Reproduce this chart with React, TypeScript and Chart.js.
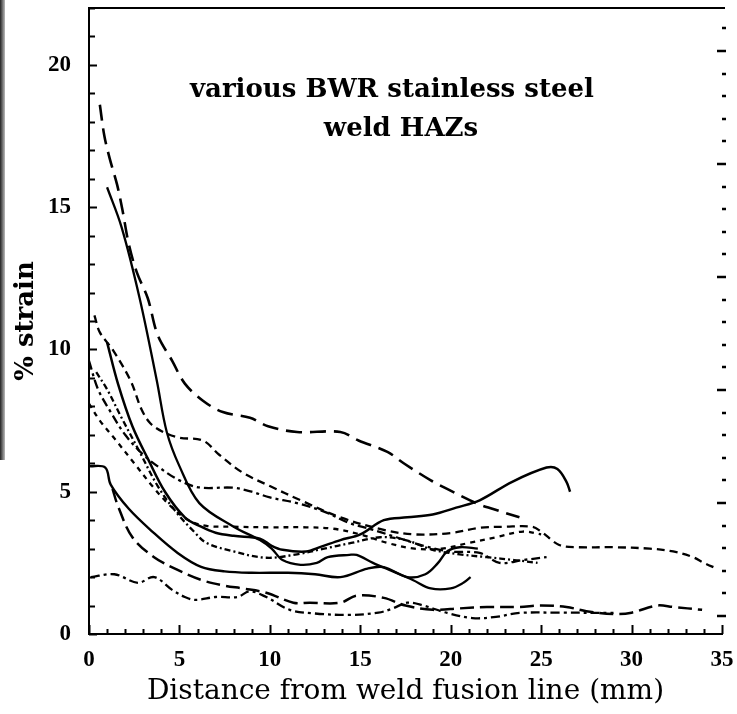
import React, { useEffect, useRef } from 'react';
import { Chart, registerables } from 'chart.js';

Chart.register(...registerables);

// ---- axes ----
const X_MIN = 0;
const X_MAX = 35;
const Y_MIN = 0;
const Y_MAX = 22;
const X_LABEL_STEP = 5;
const Y_LABEL_STEP = 5;
// secondary (right-hand) tick scale as printed on the figure
const Y2_MIN = -0.8;
const Y2_MAX = 26.9;

const X_TITLE = 'Distance from weld fusion line (mm)';
const Y_TITLE = '% strain';
const TITLE_LINES = ['various BWR stainless steel', 'weld HAZs'];
const TITLE_POS: [number, number][] = [[16.75, 19.12], [17.25, 17.75]];

// ---- series (x = distance mm, y = % strain) ----
const longDashTop: [number, number][] = [
  [0.6, 18.6], [0.85, 17.5], [1.15, 16.7], [1.55, 15.8], [1.85, 14.9], [2.2, 13.7],
  [2.65, 12.7], [3.25, 11.8], [3.8, 10.5], [4.6, 9.6], [5.3, 8.8], [6.3, 8.2],
  [7.4, 7.8], [8.9, 7.6], [9.9, 7.3], [11.5, 7.1], [13.9, 7.1], [14.9, 6.8],
  [16.5, 6.4], [17.4, 6.0], [18.9, 5.4], [19.8, 5.1], [21.4, 4.6], [22.3, 4.4], [23.8, 4.1],
];

const solidSteep: [number, number][] = [
  [1.0, 15.7], [1.8, 14.3], [2.8, 11.8], [3.75, 8.9], [4.3, 7.1], [5.0, 5.9],
  [6.1, 4.6], [8.0, 3.77], [9.45, 3.3], [10.1, 3.0], [10.7, 2.6], [11.7, 2.43],
  [12.6, 2.5], [13.2, 2.7], [14.4, 2.78], [14.8, 2.78], [15.7, 2.5], [16.8, 2.2],
  [17.9, 1.9], [18.9, 1.6], [20.0, 1.6], [20.7, 1.8], [21.1, 2.0],
];

const solidHump: [number, number][] = [
  [1.0, 10.25], [1.6, 8.8], [2.4, 7.3], [3.3, 6.1], [4.2, 5.0], [5.3, 4.1],
  [6.2, 3.77], [7.0, 3.56], [8.0, 3.45], [9.45, 3.35], [10.1, 3.1], [10.7, 2.96],
  [12.0, 2.9], [12.8, 3.06], [13.9, 3.3], [15.0, 3.5], [16.3, 4.0], [17.6, 4.1],
  [19.0, 4.2], [20.3, 4.44], [21.6, 4.7], [23.4, 5.35], [25.3, 5.85], [25.9, 5.8],
  [26.4, 5.35], [26.6, 5.0],
];

const solidLow: [number, number][] = [
  [0.0, 5.9], [0.9, 5.85], [1.2, 5.25], [2.2, 4.4], [3.5, 3.6], [4.9, 2.85],
  [6.2, 2.36], [7.5, 2.2], [9.0, 2.15], [11.0, 2.15], [12.5, 2.1], [13.9, 2.0],
  [15.4, 2.3], [16.3, 2.35], [17.6, 2.0], [18.6, 2.1], [19.3, 2.5], [19.8, 2.9],
  [20.5, 3.05], [21.5, 3.0],
];

const shortDashLong: [number, number][] = [
  [0.3, 11.2], [0.6, 10.6], [1.3, 10.0], [2.3, 8.9], [2.9, 7.9], [3.4, 7.4],
  [4.1, 7.1], [5.0, 6.9], [6.3, 6.8], [7.2, 6.3], [8.5, 5.67], [10.0, 5.2],
  [11.7, 4.7], [13.9, 4.1], [16.3, 3.66], [18.0, 3.5], [20.0, 3.55], [21.6, 3.73],
  [23.0, 3.77], [24.5, 3.77], [25.0, 3.6], [26.0, 3.13], [27.0, 3.05], [29.0, 3.05],
  [31.0, 3.0], [32.3, 2.9], [33.4, 2.7], [34.0, 2.5], [34.7, 2.3],
];

const dashDotA: [number, number][] = [
  [0.0, 9.6], [0.5, 8.6], [1.2, 7.8], [2.0, 7.0], [3.0, 6.3], [4.0, 5.8],
  [5.0, 5.4], [6.1, 5.15], [8.0, 5.14], [9.0, 5.0], [10.0, 4.8], [11.5, 4.6],
  [13.0, 4.3], [14.4, 3.9], [15.5, 3.7], [17.0, 3.4], [18.5, 3.1], [20.0, 2.9],
  [21.6, 2.85], [22.7, 2.5], [24.0, 2.6], [25.3, 2.7],
];

const dottedB: [number, number][] = [
  [0.0, 8.1], [0.6, 7.5], [1.5, 6.8], [2.5, 6.0], [3.5, 5.2], [4.5, 4.5],
  [5.5, 4.0], [6.5, 3.8], [8.0, 3.77], [10.0, 3.75], [12.0, 3.75], [13.5, 3.7],
  [15.0, 3.5], [16.5, 3.2], [18.0, 3.0], [19.5, 3.0], [21.0, 3.2], [22.5, 3.4],
  [24.0, 3.6], [25.0, 3.5],
];

const dashDotC: [number, number][] = [
  [0.4, 9.2], [1.0, 8.6], [1.8, 7.6], [2.8, 6.4], [3.8, 5.2], [4.8, 4.3],
  [5.8, 3.6], [6.5, 3.2], [8.0, 2.9], [9.8, 2.68], [11.5, 2.8], [13.0, 3.0],
  [14.5, 3.2], [16.1, 3.4], [17.5, 3.3], [19.0, 2.96], [20.5, 2.8], [22.0, 2.7],
  [23.5, 2.6], [24.8, 2.5],
];

const longDashBottom: [number, number][] = [
  [1.3, 5.1], [1.6, 4.5], [2.4, 3.4], [3.6, 2.7], [4.9, 2.25], [6.2, 1.9],
  [7.5, 1.7], [8.5, 1.6], [9.8, 1.45], [11.3, 1.1], [12.2, 1.1], [13.9, 1.1],
  [14.8, 1.35], [16.3, 1.27], [17.5, 1.0], [19.0, 0.85], [20.5, 0.9], [22.0, 0.95],
  [23.8, 0.95], [25.0, 1.0], [26.4, 0.95], [27.5, 0.8], [29.0, 0.7], [30.0, 0.75],
  [31.4, 1.0], [32.3, 0.95], [33.9, 0.85],
];

const dashDotBottom: [number, number][] = [
  [0.1, 2.0], [1.4, 2.1], [2.7, 1.8], [3.6, 2.0], [4.6, 1.55], [5.3, 1.3],
  [5.9, 1.2], [7.0, 1.3], [8.2, 1.3], [8.9, 1.5], [9.8, 1.3], [11.1, 0.85],
  [12.5, 0.72], [14.4, 0.67], [16.0, 0.75], [16.8, 0.9], [17.6, 1.1], [18.5, 1.0],
  [19.8, 0.74], [21.2, 0.56], [22.5, 0.6], [23.8, 0.74], [26.0, 0.75], [29.0, 0.74],
];

const SERIES: { data: [number, number][]; dash: number[]; width: number }[] = [
  { data: longDashTop, dash: [16, 8], width: 2.6 },
  { data: solidSteep, dash: [], width: 2.3 },
  { data: solidHump, dash: [], width: 2.5 },
  { data: solidLow, dash: [], width: 2.4 },
  { data: shortDashLong, dash: [8, 5], width: 2.3 },
  { data: dashDotA, dash: [9, 4, 3, 4], width: 2.3 },
  { data: dottedB, dash: [5, 5], width: 2.3 },
  { data: dashDotC, dash: [6, 3, 2, 3], width: 2.3 },
  { data: longDashBottom, dash: [14, 6], width: 2.5 },
  { data: dashDotBottom, dash: [9, 4, 3, 4], width: 2.3 },
];

const framePlugin = {
  id: 'framePlugin',
  beforeDraw(chart: any) {
    const { ctx } = chart;
    ctx.save();
    const g = ctx.createLinearGradient(0, 0, 5, 0);
    g.addColorStop(0, '#222');
    g.addColorStop(1, '#bbb');
    ctx.fillStyle = g;
    ctx.fillRect(0, 0, 5, 460);
    ctx.restore();
  },
  afterDraw(chart: any) {
    const { ctx, chartArea: a, scales } = chart;
    const xs = scales.x;
    const ys = scales.y;
    const y2 = scales.y2;
    ctx.save();
    ctx.strokeStyle = '#000';
    ctx.lineWidth = 2;
    ctx.beginPath();
    ctx.moveTo(a.left, a.top);
    ctx.lineTo(a.right + 3, a.top);
    for (let v = Y_MIN; v <= Y_MAX; v++) {
      const py = Math.round(ys.getPixelForValue(v)) + 0.5;
      const len = v % 5 === 0 ? 8 : 6;
      ctx.moveTo(a.left, py);
      ctx.lineTo(a.left + len, py);
    }
    for (let v = X_MIN; v <= X_MAX; v++) {
      const px = Math.round(xs.getPixelForValue(v)) + 0.5;
      const len = v % 5 === 0 ? 9 : 5;
      ctx.moveTo(px, a.bottom);
      ctx.lineTo(px, a.bottom - len);
    }
    ctx.stroke();
    ctx.lineWidth = 2.5;
    ctx.beginPath();
    for (let v = Math.ceil(Y2_MIN); v <= Math.floor(Y2_MAX); v++) {
      const py = Math.round(y2.getPixelForValue(v));
      const major = v % 5 === 0;
      ctx.moveTo(a.right + (major ? -5 : 0), py);
      ctx.lineTo(a.right + 4, py);
    }
    ctx.stroke();

    ctx.fillStyle = '#000';
    ctx.font = 'bold 26px "DejaVu Serif", serif';
    ctx.textAlign = 'center';
    ctx.textBaseline = 'middle';
    TITLE_LINES.forEach((t, i) => {
      ctx.fillText(t, xs.getPixelForValue(TITLE_POS[i][0]), ys.getPixelForValue(TITLE_POS[i][1]));
    });
    ctx.restore();
  },
};

export default function App() {
  const ref = useRef<HTMLCanvasElement | null>(null);
  useEffect(() => {
    if (!ref.current) return;
    const chart = new Chart(ref.current, {
      type: 'line',
      data: {
        datasets: SERIES.map((s) => ({
          data: s.data.map(([x, y]) => ({ x, y })),
          borderColor: '#000',
          borderWidth: s.width,
          borderDash: s.dash,
          pointRadius: 0,
          tension: 0.35,
          fill: false,
        })),
      },
      options: {
        animation: false,
        responsive: false,
        devicePixelRatio: 1,
        layout: { padding: { top: 8, right: 15, left: 0, bottom: 0 } },
        plugins: { legend: { display: false }, tooltip: { enabled: false } },
        scales: {
          x: {
            type: 'linear',
            min: X_MIN,
            max: X_MAX,
            grid: { display: false, drawTicks: true, tickLength: 12 },
            border: { display: true, color: '#000', width: 2 },
            ticks: {
              stepSize: X_LABEL_STEP,
              padding: 0,
              color: '#000',
              maxRotation: 0,
              font: { family: '"Liberation Serif", serif', size: 23, weight: 'bold' },
            },
            title: {
              display: true,
              text: X_TITLE,
              color: '#000',
              font: { family: '"DejaVu Serif", serif', size: 28 },
              padding: { top: 0, bottom: 5 },
            },
            afterFit: (s: any) => { s.height = 80; },
          },
          y: {
            type: 'linear',
            min: Y_MIN,
            max: Y_MAX,
            grid: { display: false, drawTicks: true, tickLength: 24 },
            border: { display: true, color: '#000', width: 2 },
            ticks: {
              stepSize: Y_LABEL_STEP,
              includeBounds: false,
              padding: -6,
              color: '#000',
              font: { family: '"Liberation Serif", serif', size: 23, weight: 'bold' },
            },
            title: {
              display: true,
              text: Y_TITLE,
              color: '#000',
              font: { family: '"DejaVu Serif", serif', size: 26, weight: 'bold' },
              padding: { top: 11, bottom: 0 },
            },
            afterFit: (s: any) => { s.width = 89; },
          },
          y2: {
            type: 'linear',
            position: 'right',
            display: false,
            min: Y2_MIN,
            max: Y2_MAX,
            ticks: { display: false },
          },
        },
      },
      plugins: [framePlugin],
    } as any);
    return () => chart.destroy();
  }, []);
  return (
    <div style={{ position: 'absolute', left: 0, top: 0, width: 737, height: 714, background: '#fff' }}>
      <canvas ref={ref} width={737} height={714} />
    </div>
  );
}
